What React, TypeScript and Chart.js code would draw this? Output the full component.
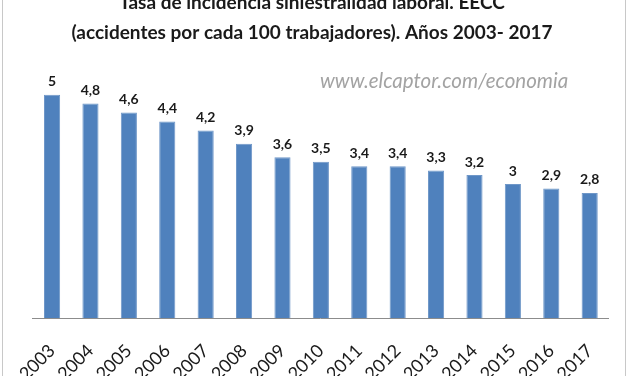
import React, { useEffect, useRef } from "react";
import { Chart, registerables } from "chart.js";

Chart.register(...registerables);

const titleLines = [
  "Tasa de incidencia siniestralidad laboral. EECC",
  "(accidentes por cada 100 trabajadores). Años 2003- 2017",
];
const watermark = "www.elcaptor.com/economia";
const years = ["2003", "2004", "2005", "2006", "2007", "2008", "2009", "2010", "2011", "2012", "2013", "2014", "2015", "2016", "2017"];
const rates = [5, 4.8, 4.6, 4.4, 4.2, 3.9, 3.6, 3.5, 3.4, 3.4, 3.3, 3.2, 3, 2.9, 2.8];

const FONT = "Lato, 'Open Sans', sans-serif";

const decorPlugin = {
  id: "decor",
  afterDraw(chart: any) {
    const ctx = chart.ctx;
    ctx.save();
    // frame
    ctx.strokeStyle = "#c8c8c8";
    ctx.lineWidth = 1;
    ctx.beginPath();
    ctx.moveTo(2.5, 0);
    ctx.lineTo(2.5, 376);
    ctx.moveTo(625.5, 0);
    ctx.lineTo(625.5, 376);
    ctx.stroke();
    // title
    ctx.fillStyle = "#1a1a1a";
    ctx.textAlign = "center";
    ctx.textBaseline = "middle";
    ctx.font = `bold 19px ${FONT}`;
    ctx.fillText(titleLines[0], 312, 3);
    ctx.fillText(titleLines[1], 312, 33);
    // watermark
    ctx.fillStyle = "#a3a3a3";
    ctx.font = `italic 20.5px ${FONT}`;
    ctx.textAlign = "left";
    ctx.fillText(watermark, 320, 81);
    // data labels
    const meta = chart.getDatasetMeta(0);
    ctx.fillStyle = "#1a1a1a";
    ctx.font = `bold 14px ${FONT}`;
    ctx.textAlign = "center";
    ctx.textBaseline = "bottom";
    meta.data.forEach((bar: any, i: number) => {
      const txt = String(rates[i]).replace(".", ",");
      ctx.fillText(txt, bar.x, bar.y - 6);
    });
    ctx.restore();
  },
};

export default function App() {
  const ref = useRef<HTMLCanvasElement>(null);
  useEffect(() => {
    if (!ref.current) return;
    const chart = new Chart(ref.current, {
      type: "bar",
      data: {
        labels: years,
        datasets: [
          {
            data: rates,
            backgroundColor: "#4f81bd",
            borderColor: "#6f97c8",
            borderWidth: 1,
            barPercentage: 0.42,
            categoryPercentage: 1,
          },
        ],
      },
      options: {
        animation: false,
        responsive: false,
        maintainAspectRatio: false,
        layout: { padding: { top: 50, left: 21, right: 13, bottom: 0 } },
        plugins: { legend: { display: false }, title: { display: false }, tooltip: { enabled: false } },
        scales: {
          y: { display: false, min: 0, max: 6 },
          x: {
            grid: { display: false, drawTicks: false },
            border: { display: true, color: "#8c8c8c", width: 1 },
            ticks: {
              color: "#1a1a1a",
              font: { size: 18, family: FONT },
              maxRotation: 45,
              minRotation: 45,
              padding: 22,
              autoSkip: false,
            },
            afterFit(scale: any) {
              scale.height = 58;
            },
          },
        },
      },
      plugins: [decorPlugin],
    });
    return () => chart.destroy();
  }, []);
  return (
    <div style={{ position: "absolute", left: 0, top: 0, width: 627, height: 376, background: "#fff" }}>
      <canvas ref={ref} width={627} height={376} style={{ display: "block" }} />
    </div>
  );
}
